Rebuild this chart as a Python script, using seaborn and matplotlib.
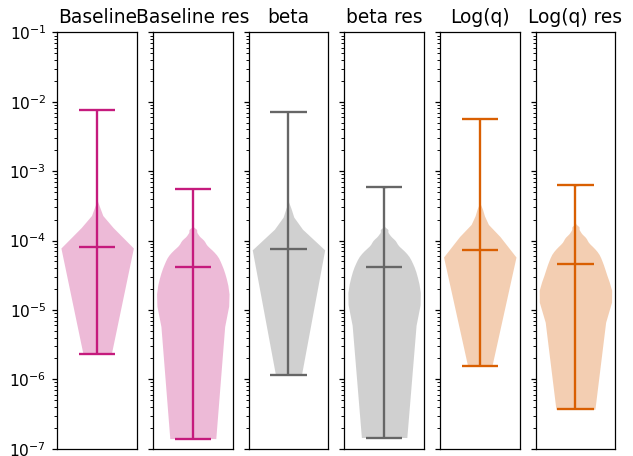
import numpy as np
import matplotlib
matplotlib.use("Agg")
import matplotlib.pyplot as plt
import seaborn as sns

titles = ["Baseline", "Baseline res", "beta", "beta res", "Log(q)", "Log(q) res"]

baseline = [2.3e-6, 2.0e-5, 2.7e-5, 3.0e-5, 3.3e-5, 3.7e-5, 4.1e-5, 4.5e-5, 4.9e-5,
            5.3e-5, 5.7e-5, 6.1e-5, 6.5e-5, 6.9e-5, 7.3e-5, 7.7e-5, 8.0e-5, 8.4e-5,
            8.9e-5, 9.4e-5, 1.0e-4, 1.06e-4, 1.13e-4, 1.25e-4, 1.33e-4, 1.38e-4,
            1.49e-4, 1.6e-4, 1.76e-4, 1.85e-4, 2.2e-4, 2.5e-4, 2.9e-4, 7.5e-3]

baseline_res = [1.4e-7, 9.5e-7, 2.9e-6, 4.8e-6, 6.7e-6, 8.6e-6, 1.06e-5, 1.24e-5,
                1.44e-5, 1.63e-5, 1.84e-5, 2.04e-5, 2.25e-5, 2.45e-5, 2.66e-5, 2.88e-5,
                3.11e-5, 3.34e-5, 3.58e-5, 3.81e-5, 4.04e-5, 4.27e-5, 4.53e-5, 4.81e-5,
                5.08e-5, 5.35e-5, 5.63e-5, 5.90e-5, 6.18e-5, 6.49e-5, 6.86e-5, 7.22e-5,
                7.59e-5, 7.98e-5, 8.56e-5, 9.14e-5, 9.73e-5, 1.031e-4, 1.116e-4,
                1.245e-4, 1.429e-4, 5.57e-4]

beta = [1.17e-6, 2.2e-5, 2.8e-5, 3.1e-5, 3.4e-5, 3.6e-5, 3.9e-5, 4.3e-5, 4.7e-5,
        5.0e-5, 5.3e-5, 5.7e-5, 6.0e-5, 6.4e-5, 6.7e-5, 7.1e-5, 7.4e-5, 7.6e-5,
        8.1e-5, 8.6e-5, 9.2e-5, 9.8e-5, 1.04e-4, 1.11e-4, 1.18e-4, 1.27e-4, 1.37e-4,
        1.48e-4, 1.62e-4, 1.8e-4, 2.1e-4, 2.4e-4, 2.8e-4, 7.15e-3]

beta_res = [1.45e-7, 1.0e-6, 3.0e-6, 5.0e-6, 6.9e-6, 8.8e-6, 1.07e-5, 1.26e-5, 1.45e-5,
            1.64e-5, 1.85e-5, 2.05e-5, 2.26e-5, 2.46e-5, 2.67e-5, 2.89e-5, 3.12e-5,
            3.35e-5, 3.59e-5, 3.82e-5, 4.04e-5, 4.26e-5, 4.52e-5, 4.80e-5, 5.07e-5,
            5.34e-5, 5.62e-5, 5.89e-5, 6.17e-5, 6.48e-5, 6.85e-5, 7.21e-5, 7.58e-5,
            7.97e-5, 8.55e-5, 9.13e-5, 9.72e-5, 1.03e-4, 1.115e-4, 1.24e-4, 1.43e-4,
            5.82e-4]

logq = [1.54e-6, 2.2e-5, 2.8e-5, 3.1e-5, 3.4e-5, 3.8e-5, 4.1e-5, 4.5e-5, 4.8e-5,
        5.1e-5, 5.4e-5, 5.7e-5, 6.0e-5, 6.3e-5, 6.6e-5, 6.9e-5, 7.3e-5, 7.5e-5,
        7.9e-5, 8.4e-5, 8.9e-5, 9.5e-5, 1.02e-4, 1.09e-4, 1.17e-4, 1.26e-4, 1.37e-4,
        1.5e-4, 1.65e-4, 1.85e-4, 2.1e-4, 2.4e-4, 2.9e-4, 5.58e-3]

logq_res = [3.7e-7, 3.0e-6, 6.0e-6, 8.0e-6, 9.8e-6, 1.1e-5, 1.25e-5, 1.36e-5, 1.58e-5,
            1.78e-5, 2.01e-5, 2.23e-5, 2.46e-5, 2.68e-5, 2.91e-5, 3.15e-5, 3.40e-5,
            3.65e-5, 3.92e-5, 4.17e-5, 4.42e-5, 4.67e-5, 4.96e-5, 5.26e-5, 5.56e-5,
            5.85e-5, 6.16e-5, 6.45e-5, 6.76e-5, 7.10e-5, 7.50e-5, 7.90e-5, 8.30e-5,
            8.73e-5, 9.36e-5, 1.0e-4, 1.064e-4, 1.128e-4, 1.221e-4, 1.362e-4, 1.563e-4,
            6.22e-4]

series = [baseline, baseline_res, beta, beta_res, logq, logq_res]
colors = ["#c51b7d", "#c51b7d", "#666666", "#666666", "#d95f02", "#d95f02"]
# KDE bandwidth (data units) for each violin
kde_bw = [2.8e-5, 8e-6, 2.8e-5, 8e-6, 2.8e-5, 8.7e-6]

DPI = 112
fig = plt.figure(figsize=(633 / DPI, 456 / DPI), dpi=DPI)
axes = fig.subplots(1, 6, sharey=True)
fig.subplots_adjust(left=0.0905, right=0.972, top=0.929, bottom=0.016, wspace=0.2)

for ax, title, vals, col, h in zip(axes, titles, series, colors, kde_bw):
    vals = np.asarray(vals, dtype=float)
    bwm = h / np.std(vals, ddof=1)
    sns.violinplot(y=vals, ax=ax, color=col, saturation=1, cut=0, inner=None,
                   linewidth=0, width=0.5, bw_method=bwm, gridsize=100,
                   density_norm="width", alpha=0.3)
    lo, hi, med = vals.min(), vals.max(), np.median(vals)
    ax.vlines(0, lo, hi, color=col, lw=1.5)
    ax.hlines([lo, med, hi], -0.125, 0.125, color=col, lw=1.5)
    ax.set_title(title, fontsize=12)
    ax.set_xlim(-0.275, 0.275)
    ax.set_xticks([])
    ax.set_xlabel("")
    ax.set_ylabel("")
    for s in ax.spines.values():
        s.set_visible(True)
        s.set_color("black")

axes[0].set_yscale("log")
axes[0].set_ylim(1e-7, 1e-1)

fig.savefig("out.png", dpi=DPI)
